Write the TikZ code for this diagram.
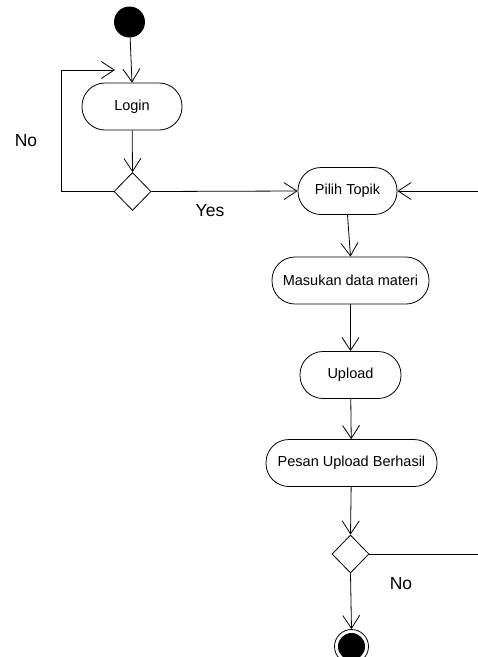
\documentclass[tikz,border=0pt]{standalone}
\usepackage{fontspec}
\setmainfont{Liberation Sans}
\usetikzlibrary{arrows.meta,shapes.geometric}
\begin{document}
\begin{tikzpicture}[x=1pt,y=-1pt,
  act/.style={draw,line width=0.8pt,rounded corners=23pt,minimum height=47pt,inner sep=0pt,font=\fontsize{14.5}{16}\selectfont},
  dec/.style={draw,diamond,aspect=1,line width=0.8pt,minimum width=37pt,minimum height=38pt,inner sep=0pt},
  flow/.style={line width=0.8pt,-{Straight Barb[length=13pt,width=17pt,line width=0.8pt]}},
  plain/.style={line width=0.8pt},
  lbl/.style={font=\fontsize{17.5}{20}\selectfont,inner sep=0pt}]
\useasboundingbox (0,0) rectangle (478,657);
\clip (0,0) rectangle (478,657);
\node[circle,fill=black,minimum size=31pt,inner sep=0pt] (start) at (129.5,22) {};
\node[act,minimum width=100pt] (login) at (132,106.5) {Login};
\node[dec] (d1) at (132.5,191.5) {};
\node[act,minimum width=99pt] (pilih) at (347.5,191) {Pilih Topik};
\node[act,minimum width=157pt] (masukan) at (350.5,280.5) {Masukan data materi};
\node[act,minimum width=101pt] (upload) at (350.5,375) {Upload};
\node[act,minimum width=171pt] (pesan) at (351.5,463) {Pesan Upload Berhasil};
\node[dec] (d2) at (350.5,554) {};
\node[circle,draw,line width=0.8pt,minimum size=34pt,inner sep=0pt] (end) at (351.5,646.5) {};
\node[circle,fill=black,minimum size=27pt,inner sep=0pt] (endin) at (end.center) {};
\coordinate (loopend) at (115,70);
\coordinate (rightin) at (478,191);
\coordinate (rightout) at (478,554);
\node[lbl] (no1) at (26,141) {No};
\node[lbl] (yes) at (210,211) {Yes};
\node[lbl] (no2) at (401,584) {No};
\draw[flow] (start) -- (login.north);
\draw[flow] (login) -- (d1.north);
\draw[flow] (d1.west) -- (61,191.5) |- (loopend);
\draw[flow] (d1.east) -- (pilih.west);
\draw[flow] (rightin) -- (pilih.east);
\draw[flow] (pilih.south) -- (masukan.north);
\draw[flow] (masukan) -- (upload);
\draw[flow] (upload) -- (pesan);
\draw[flow] (pesan) -- (d2.north);
\draw[plain] (d2.east) -- (rightout);
\draw[flow] (d2.south) -- (end.north);
\end{tikzpicture}
\end{document}
